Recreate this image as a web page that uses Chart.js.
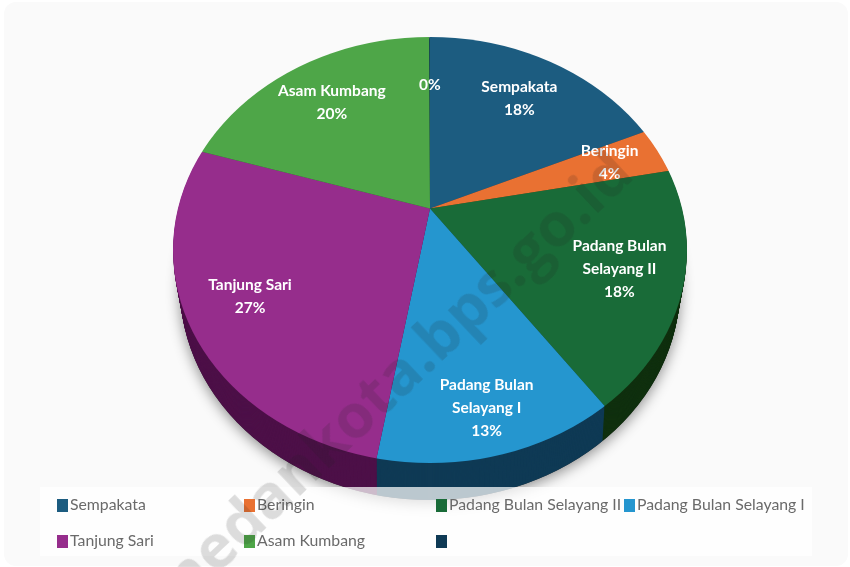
<!DOCTYPE html>
<html lang="id">
<head>
<meta charset="UTF-8">
<title>Pie Medan Selayang</title>
<script src="https://cdn.jsdelivr.net/npm/chart.js"></script>
<style>
    html, body { margin: 0; padding: 0; background: #fff; }
    .page { position: relative; width: 850px; height: 567px; overflow: hidden; filter: blur(0.5px); }
    .card { position: absolute; left: 4px; top: 2px; width: 844px; height: 564px; background: #fafafa; border-radius: 12px; }
    #pie { position: absolute; left: 0; top: 0; }
    .legend-band { position: absolute; left: 40px; top: 487px; width: 772px; height: 69px; background: rgba(255, 255, 255, 0.72); }
    .legend-item { position: absolute; font: 15.8px Lato, sans-serif; color: #6a6a6a; white-space: nowrap; }
    .legend-item i { display: inline-block; width: 11px; height: 13px; margin-right: 2px; vertical-align: -2px; }
    .mark { position: absolute; left: 388px; top: 380px; font: bold 61px "Open Sans", sans-serif; color: rgba(30, 30, 30, 0.15); transform: translate(-50%, -50%) rotate(-43.5deg); white-space: nowrap; }
</style>
</head>
<body>
<div class="page">
    <div class="card"></div>
    <canvas id="pie" width="850" height="567"></canvas>
    <div class="legend-band" id="legendBand"></div>
    <div class="mark">medankota.bps.go.id</div>
</div>
<script>
    const categories = ['Sempakata', 'Beringin', 'Padang Bulan Selayang II', 'Padang Bulan Selayang I', 'Tanjung Sari', 'Asam Kumbang', ''];
    const labelLines = [['Sempakata'], ['Beringin'], ['Padang Bulan', 'Selayang II'], ['Padang Bulan', 'Selayang I'], ['Tanjung Sari'], ['Asam Kumbang'], []];
    const shares = [18.3, 3.6, 18.3, 12.5, 27.1, 20.15, 0.05];
    const topColors = ['#1c5c80', '#e97132', '#196b38', '#2596cf', '#962d8c', '#4ea648', '#0f3a55'];
    const sideColors = ['#0f3a55', '#8a4018', '#10300f', '#0f3a55', '#4d1048', '#27602a', '#0f3a55'];
    const legendX = [17, 204, 396, 584];
    const legendY = [7, 43];

    // the pie is photographed in perspective: apex sits above the centre of the outline
    const rim = { cx: 430, cy: 250, rx: 257, ry: 213 };
    const squash = 0.8;
    const depth = 37;
    const labelReach = [0.75, 0.79, 0.75, 0.81, 0.75, 0.75, 0.72];

    function rayLength(dx, dy, apexY) {
        // where the ray from the apex leaves the rim ellipse
        let a = (dx * dx) / (rim.rx * rim.rx) + (dy * dy) / (rim.ry * rim.ry);
        let off = apexY - rim.cy;
        let b = 2 * off * dy / (rim.ry * rim.ry);
        let c = off * off / (rim.ry * rim.ry) - 1;
        return (-b + Math.sqrt(b * b - 4 * a * c)) / (2 * a);
    }

    function drawArcs(chart, shiftY, shrink, colors) {
        let ctx = chart.ctx;
        let arcs = chart.getDatasetMeta(0).data;
        let apex = arcs[0];
        ctx.save();
        ctx.beginPath();
        ctx.ellipse(rim.cx, rim.cy + shiftY, rim.rx - shrink, rim.ry, 0, 0, Math.PI * 2);
        ctx.clip();
        ctx.translate(apex.x, apex.y + shiftY);
        ctx.scale(1, squash);
        ctx.translate(-apex.x, -apex.y);
        arcs.forEach((arc, i) => {
            let keep = arc.options.backgroundColor;
            arc.options.backgroundColor = colors[i];
            arc.draw(ctx);
            arc.options.backgroundColor = keep;
        });
        ctx.restore();
    }

    const perspectivePie = {
        id: 'perspectivePie',
        beforeDatasetDraw(chart) {
            let ctx = chart.ctx;
            ctx.save();
            ctx.shadowColor = 'rgba(0, 0, 0, 0.45)';
            ctx.shadowBlur = 14;
            ctx.shadowOffsetY = 3;
            ctx.fillStyle = '#333';
            ctx.beginPath();
            ctx.ellipse(rim.cx, rim.cy + depth, rim.rx - 7, rim.ry, 0, 0, Math.PI * 2);
            ctx.fill();
            ctx.restore();
            for (let d = depth; d > 0; d--) {
                drawArcs(chart, d, 7 * d / depth, sideColors);
            }
            drawArcs(chart, 0, 0, topColors);
            return false;
        },
        afterDatasetsDraw(chart) {
            let ctx = chart.ctx;
            let arcs = chart.getDatasetMeta(0).data;
            ctx.save();
            ctx.fillStyle = '#fff';
            ctx.textAlign = 'center';
            ctx.textBaseline = 'middle';
            ctx.font = 'bold 15.5px Lato, sans-serif';
            arcs.forEach((arc, i) => {
                let mid = (arc.startAngle + arc.endAngle) / 2;
                let dx = Math.cos(mid);
                let dy = Math.sin(mid) * squash;
                let len = rayLength(dx, dy, arc.y) * labelReach[i];
                let x = arc.x + dx * len;
                let y = arc.y + dy * len;
                let lines = labelLines[i].concat(Math.round(shares[i]) + '%');
                let top = y - (lines.length - 1) * 11.5;
                lines.forEach((line, n) => ctx.fillText(line, x, top + n * 23));
            });
            ctx.restore();
        }
    };

    new Chart(document.getElementById('pie'), {
        type: 'pie',
        data: {
            labels: categories,
            datasets: [{
                data: shares,
                backgroundColor: topColors,
                borderWidth: 0
            }]
        },
        options: {
            responsive: false,
            animation: false,
            // big radius on purpose, the rim ellipse clips it
            radius: 760,
            layout: { padding: { top: 0, bottom: 150, left: 10, right: 0 } },
            plugins: {
                legend: { display: false },
                tooltip: { enabled: false }
            }
        },
        plugins: [perspectivePie]
    });

    let band = document.getElementById('legendBand');
    categories.forEach((name, i) => {
        let item = document.createElement('div');
        item.className = 'legend-item';
        item.style.left = legendX[i % 4] + 'px';
        item.style.top = legendY[Math.floor(i / 4)] + 'px';
        let box = document.createElement('i');
        box.style.background = topColors[i];
        item.appendChild(box);
        item.appendChild(document.createTextNode(name));
        band.appendChild(item);
    });
</script>
</body>
</html>
